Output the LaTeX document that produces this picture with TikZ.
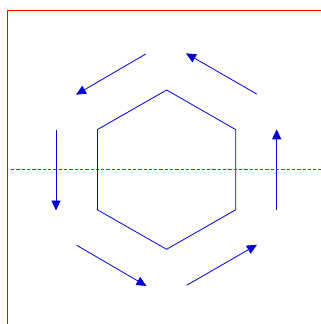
\documentclass[tikz,border=0pt]{standalone}
\usetikzlibrary{arrows.meta}
\begin{document}
\begin{tikzpicture}[x=1pt,y=-1pt,
  frame/.style={draw=red, line width=1.3pt},
  axisline/.style={draw=red, line width=1.2pt, dash pattern=on 3.3pt off 2pt},
  hexa/.style={draw=blue!85!black, line width=0.8pt},
  cyc/.style={draw=blue!85!black, line width=0.8pt, -{Triangle[length=10pt,width=9pt]}}]
\useasboundingbox (0,0) rectangle (321,324);
\coordinate (fa) at (7.3,324);
\coordinate (fb) at (7.3,10.6);
\coordinate (fc) at (321,10.6);
\draw[frame] (fa) -- (fb) -- (fc);
\coordinate (da) at (11,169.5);
\coordinate (db) at (321,169.5);
\draw[axisline] (da) -- (db);
% hexagon
\coordinate (h1) at (166.6,90);
\coordinate (h2) at (235.7,129.6);
\coordinate (h3) at (235.7,209.8);
\coordinate (h4) at (166.6,249.3);
\coordinate (h5) at (97.4,209.8);
\coordinate (h6) at (97.4,129.6);
\draw[hexa] (h1) -- (h2) -- (h3) -- (h4) -- (h5) -- (h6) -- cycle;
% arrows
\coordinate (a1s) at (145.7,54);   \coordinate (a1e) at (76,94.7);
\coordinate (a2s) at (56,129.7);   \coordinate (a2e) at (56,210.5);
\coordinate (a3s) at (76.7,245.3); \coordinate (a3e) at (146.5,286);
\coordinate (a4s) at (186.7,285.3);\coordinate (a4e) at (257,244.7);
\coordinate (a5s) at (276.7,210);  \coordinate (a5e) at (276.7,129.3);
\coordinate (a6s) at (256.7,94);   \coordinate (a6e) at (186,53.3);
\draw[cyc] (a1s) -- (a1e);
\draw[cyc] (a2s) -- (a2e);
\draw[cyc] (a3s) -- (a3e);
\draw[cyc] (a4s) -- (a4e);
\draw[cyc] (a5s) -- (a5e);
\draw[cyc] (a6s) -- (a6e);
\end{tikzpicture}
\end{document}
